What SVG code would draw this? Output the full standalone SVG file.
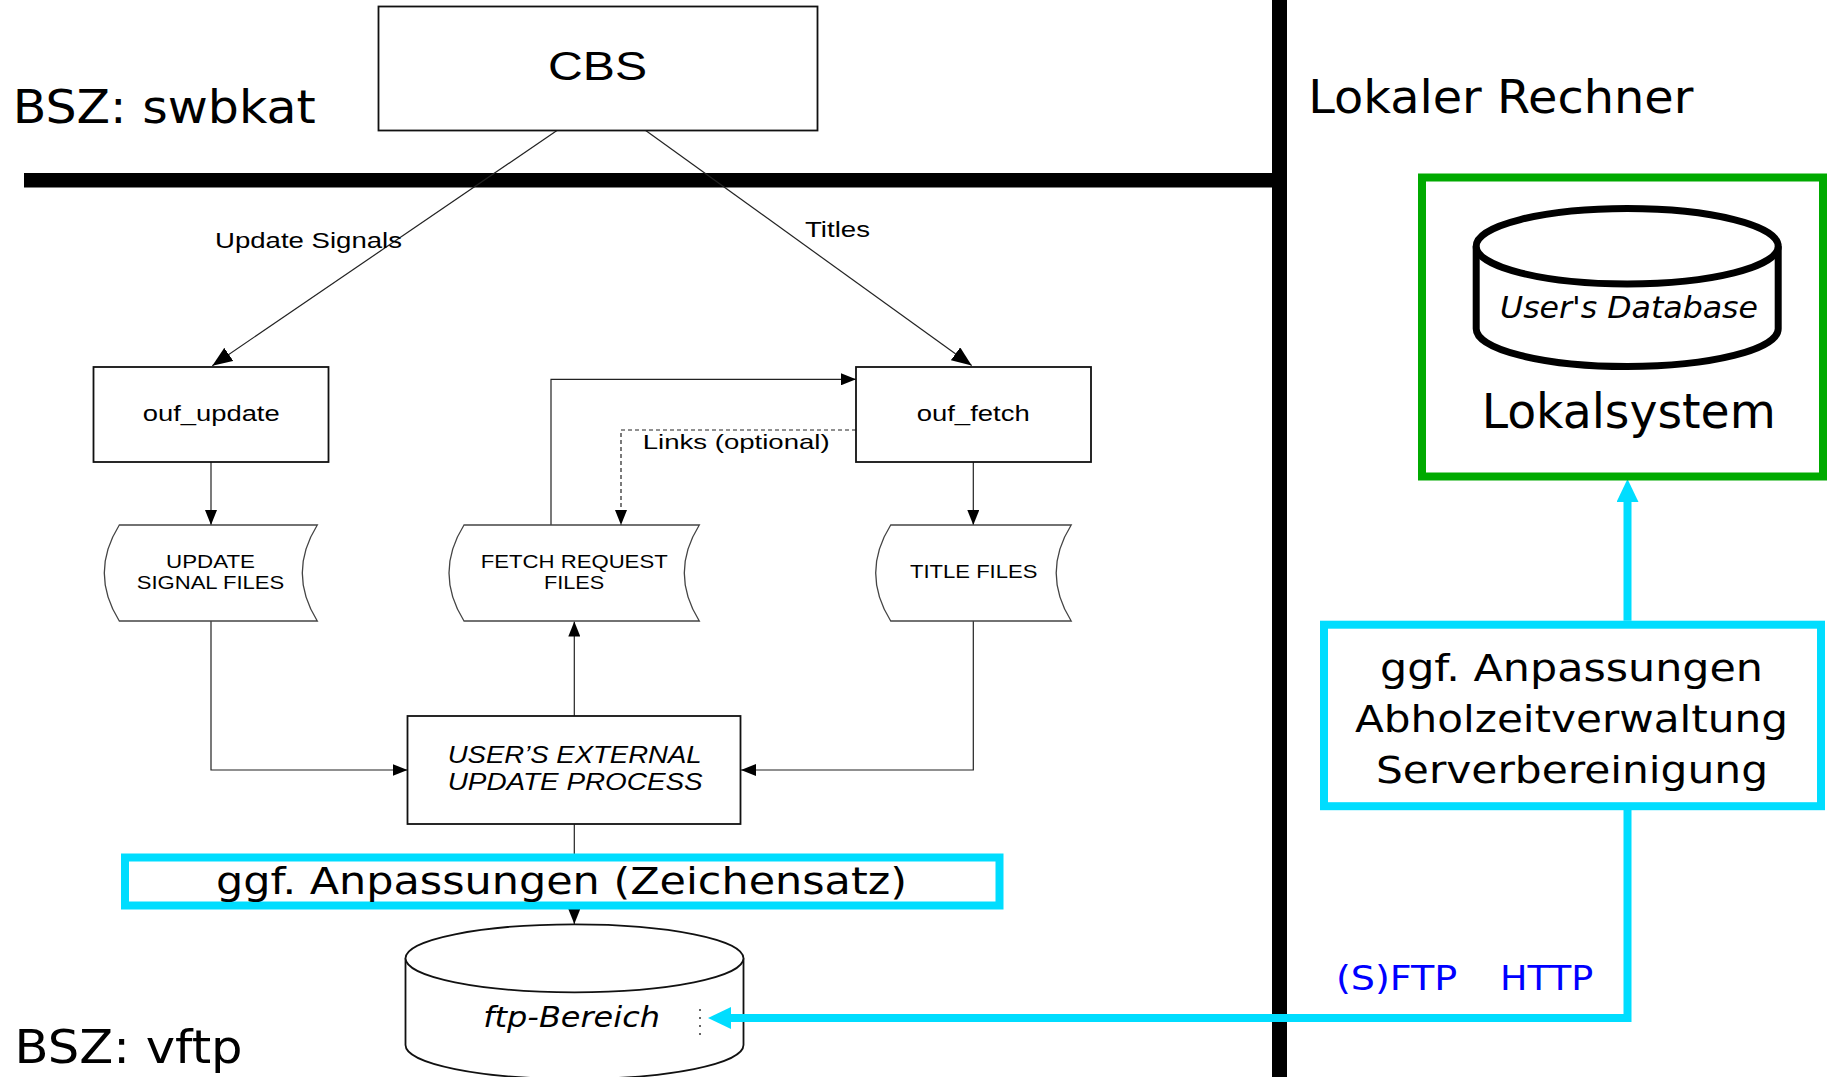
<svg xmlns="http://www.w3.org/2000/svg" width="1829" height="1077" viewBox="0 0 1829 1077">
<style>
.box{fill:#fff;stroke:#111;stroke-width:1.8}
.file{fill:#fff;stroke:#444;stroke-width:1.3}
.con{fill:none;stroke:#222;stroke-width:1.2}
.dash{fill:none;stroke:#222;stroke-width:1.2;stroke-dasharray:4 3}
.cyan{fill:none;stroke:#00DDFF;stroke-width:8;stroke-linejoin:miter}
.cbox{fill:#fff;stroke:#00DDFF;stroke-width:8}
.ar{font-family:"Liberation Sans",Arial,sans-serif;fill:#000}
.dv{font-family:"DejaVu Sans",Verdana,sans-serif;fill:#000}
</style>
<defs>
<marker id="ah" markerUnits="userSpaceOnUse" viewBox="0 0 15 12" refX="15" refY="6" markerWidth="15" markerHeight="12" orient="auto"><path d="M0,0 L15,6 L0,12 z" fill="#000"/></marker>
<marker id="ahL" markerUnits="userSpaceOnUse" viewBox="0 0 20 16" refX="20" refY="8" markerWidth="20" markerHeight="16" orient="auto"><path d="M0,0 L20,8 L0,16 z" fill="#000"/></marker>
<marker id="ahC" markerUnits="userSpaceOnUse" viewBox="0 0 23 22" refX="0" refY="11" markerWidth="23" markerHeight="22" orient="auto"><path d="M0,0 L23,11 L0,22 z" fill="#00DDFF"/></marker>
</defs>
<rect width="1829" height="1077" fill="#fff"/>

<g id="zones">
<rect x="24" y="173" width="1263" height="14.5" fill="#000"/>
<rect x="1272" y="0" width="15" height="1077" fill="#000"/>
<text class="dv" x="12.7" y="122.7" font-size="47" textLength="303" lengthAdjust="spacingAndGlyphs">BSZ: swbkat</text>
<text class="dv" x="14.6" y="1063.3" font-size="47" textLength="228" lengthAdjust="spacingAndGlyphs">BSZ: vftp</text>
<text class="dv" x="1308.3" y="112.7" font-size="46" textLength="385" lengthAdjust="spacingAndGlyphs">Lokaler Rechner</text>
</g>

<g id="connectors">
<path class="con" d="M557.7,130 L212.3,365.7" marker-end="url(#ahL)"/>
<path class="con" d="M645,130 L971.7,365.5" marker-end="url(#ahL)"/>
<path class="con" d="M211,462 L211,525" marker-end="url(#ah)"/>
<path class="con" d="M973.3,462 L973.3,525" marker-end="url(#ah)"/>
<path class="con" d="M211,621 L211,770 L407.5,770" marker-end="url(#ah)"/>
<path class="con" d="M973.3,621 L973.3,770 L741,770" marker-end="url(#ah)"/>
<path class="con" d="M574.3,716 L574.3,621.5" marker-end="url(#ah)"/>
<path class="con" d="M551,525 L551,379.3 L856,379.3" marker-end="url(#ah)"/>
<path class="dash" d="M856,430 L621,430 L621,525" marker-end="url(#ah)"/>
<path class="con" d="M574.3,824.3 L574.3,924" marker-end="url(#ah)"/>
<text class="ar" x="215" y="248.3" font-size="22" textLength="187" lengthAdjust="spacingAndGlyphs">Update Signals</text>
<text class="ar" x="805" y="237.3" font-size="22" textLength="65" lengthAdjust="spacingAndGlyphs">Titles</text>
<text class="ar" x="642.7" y="449.3" font-size="21" textLength="187" lengthAdjust="spacingAndGlyphs">Links (optional)</text>
</g>

<g id="cbs">
<rect class="box" x="378.5" y="6.5" width="439" height="124"/>
<text class="ar" x="548" y="80" font-size="40" textLength="99" lengthAdjust="spacingAndGlyphs">CBS</text>
</g>

<g id="ouf_update">
<rect class="box" x="93.5" y="367" width="235" height="95"/>
<text class="ar" x="142.7" y="421" font-size="22" textLength="137" lengthAdjust="spacingAndGlyphs">ouf_update</text>
</g>

<g id="ouf_fetch">
<rect class="box" x="856" y="367" width="235" height="95"/>
<text class="ar" x="916.7" y="421" font-size="22" textLength="113" lengthAdjust="spacingAndGlyphs">ouf_fetch</text>
</g>

<g id="update_signal_files">
<path class="file" d="M119.3,525 L317.3,525 Q287.3,573 317.3,621 L119.3,621 Q89.3,573 119.3,525 Z"/>
<text class="ar" x="166" y="568.3" font-size="19" textLength="89" lengthAdjust="spacingAndGlyphs">UPDATE</text>
<text class="ar" x="136.7" y="589.3" font-size="19" textLength="147.6" lengthAdjust="spacingAndGlyphs">SIGNAL FILES</text>
</g>

<g id="fetch_request_files">
<path class="file" d="M464,525 L699.3,525 Q669.3,573 699.3,621 L464,621 Q434,573 464,525 Z"/>
<text class="ar" x="480.7" y="568.3" font-size="19" textLength="187" lengthAdjust="spacingAndGlyphs">FETCH REQUEST</text>
<text class="ar" x="544" y="589.3" font-size="19" textLength="60.3" lengthAdjust="spacingAndGlyphs">FILES</text>
</g>

<g id="title_files">
<path class="file" d="M890.7,525 L1071.2,525 Q1041.2,573 1071.2,621 L890.7,621 Q860.7,573 890.7,525 Z"/>
<text class="ar" x="910" y="578.3" font-size="19" textLength="127.4" lengthAdjust="spacingAndGlyphs">TITLE FILES</text>
</g>

<g id="external_process">
<rect class="box" x="407.5" y="716" width="333" height="108"/>
<text class="ar" x="447.7" y="763.3" font-size="23" font-style="italic" textLength="254" lengthAdjust="spacingAndGlyphs">USER’S EXTERNAL</text>
<text class="ar" x="447.7" y="790" font-size="23" font-style="italic" textLength="255" lengthAdjust="spacingAndGlyphs">UPDATE PROCESS</text>
</g>

<g id="ftp_bereich">
<path d="M405.5,958.3 L405.5,1045 A169,34 0 0 0 743.5,1045 L743.5,958.3" fill="#fff" stroke="#111" stroke-width="1.8"/>
<ellipse cx="574.5" cy="958.3" rx="169" ry="34" fill="#fff" stroke="#111" stroke-width="1.8"/>
<text class="dv" x="483.3" y="1026.7" font-size="28" font-style="italic" textLength="176.7" lengthAdjust="spacingAndGlyphs">ftp-Bereich</text>
<line x1="700" y1="1009" x2="700" y2="1036" stroke="#333" stroke-width="1.5" stroke-dasharray="2 6"/>
</g>

<g id="cyan_connectors">
<path class="cyan" d="M1627.5,810 L1627.5,1018 L731,1018" marker-end="url(#ahC)"/>
<path class="cyan" d="M1627.5,620.7 L1627.5,502" marker-end="url(#ahC)"/>
<text x="1336" y="990" font-family="'DejaVu Sans',Verdana,sans-serif" font-size="34" fill="#0000FF"><tspan textLength="121.3" lengthAdjust="spacingAndGlyphs">(S)FTP</tspan><tspan x="1500" textLength="93.3" lengthAdjust="spacingAndGlyphs">HTTP</tspan></text>
</g>

<g id="zeichensatz">
<rect class="cbox" x="125" y="857.5" width="874.5" height="48"/>
<text class="dv" x="216" y="894" font-size="38" textLength="691" lengthAdjust="spacingAndGlyphs">ggf. Anpassungen (Zeichensatz)</text>
</g>

<g id="anpassungen_lokal">
<rect class="cbox" x="1324" y="624.7" width="497" height="181.5"/>
<text class="dv" x="1380" y="681" font-size="38" textLength="383" lengthAdjust="spacingAndGlyphs">ggf. Anpassungen</text>
<text class="dv" x="1355" y="731.7" font-size="38" textLength="433" lengthAdjust="spacingAndGlyphs">Abholzeitverwaltung</text>
<text class="dv" x="1376" y="783.3" font-size="38" textLength="392" lengthAdjust="spacingAndGlyphs">Serverbereinigung</text>
</g>

<g id="lokalsystem">
<rect x="1422" y="177.5" width="401" height="299" fill="#fff" stroke="#00AA00" stroke-width="8"/>
<path d="M1476.2,246.2 L1476.2,328.8 A151,37.7 0 0 0 1778.2,328.8 L1778.2,246.2" fill="#fff" stroke="#000" stroke-width="7"/>
<ellipse cx="1627.2" cy="246.2" rx="151" ry="37.7" fill="#fff" stroke="#000" stroke-width="7"/>
<text class="dv" x="1500" y="318.3" font-size="30" font-style="italic" textLength="258" lengthAdjust="spacingAndGlyphs">User's Database</text>
<text class="dv" x="1481.7" y="428.3" font-size="48" textLength="294" lengthAdjust="spacingAndGlyphs">Lokalsystem</text>
</g>
</svg>
